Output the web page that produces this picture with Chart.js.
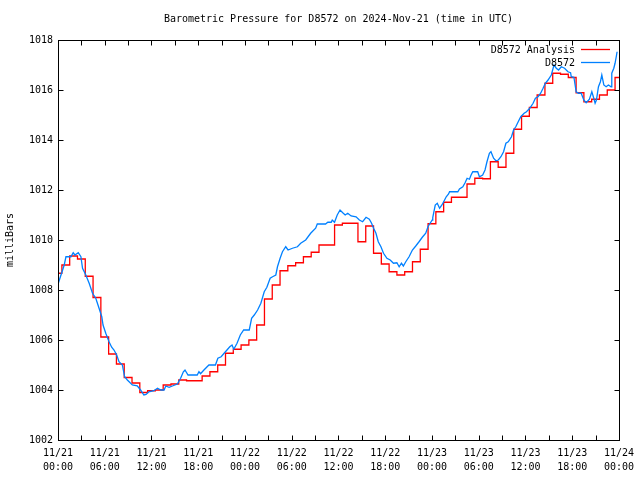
<!DOCTYPE html>
<html>
<head>
<meta charset="utf-8">
<script src="https://cdn.jsdelivr.net/npm/chart.js@4/dist/chart.umd.min.js"></script>
<style>
  body { margin: 0; background: #fff; }
  canvas { display: block; }
</style>
</head>
<body>
<canvas id="pressure-chart" width="640" height="480"></canvas>
<script>
// hours since 11/21 00:00 UTC
var tickDays = ['11/21', '11/21', '11/21', '11/21', '11/22', '11/22', '11/22', '11/22', '11/23', '11/23', '11/23', '11/23', '11/24'];
var tickTimes = ['00:00', '06:00', '12:00', '18:00', '00:00', '06:00', '12:00', '18:00', '00:00', '06:00', '12:00', '18:00', '00:00'];

// D8572 Analysis, hourly (index = hour)
var analysisValues = [
    1008.67, 1009.0, 1009.36, 1009.24, 1008.55, 1007.7, 1006.12, 1005.44, 1005.04, 1004.5,
    1004.28, 1003.9, 1003.97, 1004.0, 1004.2, 1004.24, 1004.4, 1004.37, 1004.37, 1004.56,
    1004.73, 1005.0, 1005.47, 1005.63, 1005.8, 1006.0, 1006.6, 1007.64, 1008.2, 1008.77,
    1008.97, 1009.09, 1009.33, 1009.51, 1009.8, 1009.8, 1010.6, 1010.67, 1010.67, 1009.93,
    1010.56, 1009.47, 1009.04, 1008.73, 1008.6, 1008.73, 1009.13, 1009.63, 1010.65, 1011.13,
    1011.51, 1011.71, 1011.71, 1012.24, 1012.47, 1012.45, 1013.13, 1012.91, 1013.47, 1014.43,
    1014.95, 1015.3, 1015.8, 1016.27, 1016.67, 1016.63, 1016.5, 1015.89, 1015.53, 1015.63,
    1015.8, 1016.0, 1016.5
];

// D8572 observations
var obsHours = [
    0.04, 0.8, 1.02, 1.66, 1.95, 2.17, 2.6, 2.94, 3.15, 3.57, 4.0, 4.43, 4.85, 5.27, 5.62, 5.78,
    6.13, 6.55, 6.89, 7.19, 7.53, 7.83, 8.26, 8.55, 8.9, 9.54, 10.17, 10.6, 11.02, 11.3, 11.66,
    12.3, 12.77, 13.2, 13.62, 13.83, 14.26, 14.68, 15.32, 15.74, 16.09, 16.3, 16.69, 17.87, 18.09,
    18.3, 18.73, 19.37, 20.21, 20.52, 20.94, 21.49, 22.05, 22.34, 22.56, 22.98, 23.4, 23.83,
    24.55, 24.85, 25.19, 25.62, 26.04, 26.47, 26.81, 27.23, 27.54, 27.96, 28.17, 28.51, 28.81,
    29.23, 29.53, 30.09, 30.73, 31.15, 31.79, 32.43, 33.07, 33.28, 34.34, 34.63, 35.07, 35.2,
    35.49, 35.84, 36.2, 36.55, 36.86, 37.19, 37.62, 38.26, 38.68, 39.1, 39.54, 39.96, 40.25,
    40.51, 40.81, 41.11, 41.45, 41.78, 42.22, 42.64, 43.06, 43.5, 43.79, 44.08, 44.33, 44.64,
    45.06, 45.49, 45.92, 46.34, 46.76, 47.2, 47.49, 47.62, 48.04, 48.1, 48.42, 48.68, 48.98,
    49.28, 49.62, 49.83, 50.13, 50.26, 51.32, 51.53, 51.96, 52.25, 52.51, 52.81, 53.02, 53.24,
    53.87, 54.09, 54.51, 54.81, 55.06, 55.37, 55.57, 55.91, 56.21, 56.52, 56.85, 57.19, 57.49,
    57.79, 58.21, 58.47, 58.76, 59.07, 59.4, 59.83, 60.13, 60.55, 60.98, 61.28, 61.62, 61.95,
    62.26, 62.55, 62.9, 63.32, 63.66, 63.96, 64.25, 64.6, 65.02, 65.45, 65.79, 65.88, 66.22,
    66.51, 66.81, 67.15, 67.49, 67.79, 68.21, 68.52, 68.77, 68.94, 69.11, 69.37, 69.62, 69.8,
    70.06, 70.35, 70.65, 70.99, 71.08, 71.34, 71.5, 71.67, 71.76
];
var obsValues = [
    1008.27, 1009.0, 1009.33, 1009.33, 1009.49, 1009.4, 1009.49, 1009.33, 1008.87, 1008.6, 1008.27, 1007.87, 1007.67, 1007.27, 1006.93, 1006.6,
    1006.27, 1005.93, 1005.71, 1005.6, 1005.4, 1005.13, 1005.0, 1004.53, 1004.4, 1004.2, 1004.17, 1004.0, 1003.8, 1003.82, 1003.93,
    1003.97, 1004.07, 1004.0, 1004.0, 1004.16, 1004.11, 1004.16, 1004.24, 1004.47, 1004.73, 1004.8, 1004.6, 1004.6, 1004.73,
    1004.65, 1004.8, 1005.0, 1005.0, 1005.27, 1005.33, 1005.53, 1005.73, 1005.8, 1005.63, 1005.87, 1006.2, 1006.4,
    1006.4, 1006.87, 1007.0, 1007.2, 1007.47, 1007.93, 1008.11, 1008.47, 1008.53, 1008.6, 1008.93, 1009.27, 1009.53,
    1009.73, 1009.6, 1009.67, 1009.73, 1009.87, 1010.0, 1010.27, 1010.47, 1010.64, 1010.64, 1010.71, 1010.71, 1010.8,
    1010.71, 1011.0, 1011.2, 1011.09, 1011.0, 1011.07, 1010.96, 1010.93, 1010.8, 1010.73, 1010.91, 1010.83, 1010.67,
    1010.47, 1010.27, 1009.93, 1009.73, 1009.47, 1009.27, 1009.2, 1009.07, 1009.09, 1008.93, 1009.07, 1008.96, 1009.13,
    1009.33, 1009.6, 1009.76, 1009.93, 1010.11, 1010.27, 1010.53, 1010.6, 1010.8, 1010.9, 1011.4, 1011.47, 1011.27,
    1011.4, 1011.6, 1011.73, 1011.84, 1011.93, 1011.93, 1012.04, 1012.13, 1012.29, 1012.47, 1012.43, 1012.6, 1012.73,
    1012.73, 1012.53, 1012.6, 1012.8, 1013.13, 1013.47, 1013.53, 1013.27, 1013.17, 1013.2, 1013.33, 1013.53, 1013.87,
    1013.93, 1014.13, 1014.4, 1014.53, 1014.73, 1014.93, 1015.07, 1015.13, 1015.27, 1015.47, 1015.67, 1015.73, 1015.87,
    1016.07, 1016.27, 1016.4, 1016.6, 1017.0, 1016.87, 1016.8, 1016.93, 1016.87, 1016.73, 1016.69, 1016.53, 1016.51,
    1015.93, 1015.87, 1015.87, 1015.6, 1015.49, 1015.63, 1015.93, 1015.67, 1015.47, 1015.6, 1016.13, 1016.33, 1016.6,
    1016.2, 1016.13, 1016.2, 1016.13, 1016.67, 1016.87, 1017.07, 1017.36, 1017.53
];

var FONT = "10px 'DejaVu Sans Mono'";
var RED = 'rgb(255, 0, 0)';
var BLUE = 'rgb(0, 128, 255)';

// box, inward ticks, title, legend and axis label
var framePlugin = {
    id: 'frame',
    afterDraw: function (chart) {
        var ctx = chart.ctx;
        var a = chart.chartArea;
        var xs = chart.scales.x;
        var ys = chart.scales.y;
        var L = Math.round(a.left) + 0.5, R = Math.round(a.right) + 0.5;
        var T = Math.round(a.top) + 0.5, B = Math.round(a.bottom) + 0.5;
        ctx.save();
        ctx.strokeStyle = '#000';
        ctx.lineWidth = 1;
        ctx.strokeRect(L, T, R - L, B - T);
        ctx.beginPath();
        for (var h = 0; h <= 72; h += 3) {
            var px = Math.round(xs.getPixelForValue(h)) + 0.5;
            ctx.moveTo(px, B); ctx.lineTo(px, B - 5);
            ctx.moveTo(px, T); ctx.lineTo(px, T + 5);
        }
        for (var p = 1002; p <= 1018; p += 2) {
            var py = Math.round(ys.getPixelForValue(p)) + 0.5;
            ctx.moveTo(L, py); ctx.lineTo(L + 5, py);
            ctx.moveTo(R, py); ctx.lineTo(R - 5, py);
        }
        ctx.stroke();

        ctx.fillStyle = '#000';
        ctx.font = FONT;
        ctx.textBaseline = 'middle';
        ctx.textAlign = 'center';
        ctx.fillText('Barometric Pressure for D8572 on 2024-Nov-21 (time in UTC)', (a.left + a.right) / 2, 19);

        // legend
        ctx.textAlign = 'right';
        ctx.fillText('D8572 Analysis', 575, 50);
        ctx.fillText('D8572', 575, 63);
        ctx.lineWidth = 1.3;
        ctx.beginPath();
        ctx.strokeStyle = RED;
        ctx.moveTo(581, 49.5); ctx.lineTo(610, 49.5);
        ctx.stroke();
        ctx.beginPath();
        ctx.strokeStyle = BLUE;
        ctx.moveTo(581, 62.5); ctx.lineTo(610, 62.5);
        ctx.stroke();

        ctx.translate(10, (a.top + a.bottom) / 2);
        ctx.rotate(-Math.PI / 2);
        ctx.textAlign = 'center';
        ctx.fillText('milliBars', 0, 0);
        ctx.restore();
    }
};

Chart.defaults.font.family = "'DejaVu Sans Mono'";
Chart.defaults.font.size = 10;
Chart.defaults.color = '#000';

var pressureChartNode = document.getElementById('pressure-chart').getContext('2d');
var pressureChart = new Chart(pressureChartNode, {
    type: 'line',
    data: {
        datasets: [{
            label: 'D8572 Analysis',
            data: analysisValues.map(function (v, i) { return { x: i, y: v }; }),
            borderColor: RED,
            borderWidth: 1.3,
            stepped: 'middle',
            pointRadius: 0,
            order: 1
        }, {
            label: 'D8572',
            data: obsHours.map(function (h, i) { return { x: h, y: obsValues[i] }; }),
            borderColor: BLUE,
            borderWidth: 1.3,
            pointRadius: 0,
            order: 0
        }]
    },
    options: {
        responsive: false,
        animation: false,
        layout: {
            padding: { left: 0, top: 40, right: 19, bottom: 0 }
        },
        plugins: {
            legend: { display: false },
            title: { display: false },
            tooltip: { enabled: false }
        },
        scales: {
            x: {
                type: 'linear',
                min: 0,
                max: 72,
                grid: { display: false, drawTicks: false },
                border: { display: false },
                afterFit: function (scale) { scale.height = 40; },
                ticks: {
                    stepSize: 6,
                    autoSkip: false,
                    maxRotation: 0,
                    padding: 6,
                    font: { size: 10, lineHeight: 1.4 },
                    callback: function (value) {
                        var i = value / 6;
                        return [tickDays[i], tickTimes[i]];
                    }
                }
            },
            y: {
                min: 1002,
                max: 1018,
                grid: { display: false, drawTicks: false },
                border: { display: false },
                afterFit: function (scale) { scale.width = 58; },
                ticks: {
                    stepSize: 2,
                    padding: 5,
                    callback: function (value) { return value; }
                }
            }
        }
    },
    plugins: [framePlugin]
});
</script>
</body>
</html>
